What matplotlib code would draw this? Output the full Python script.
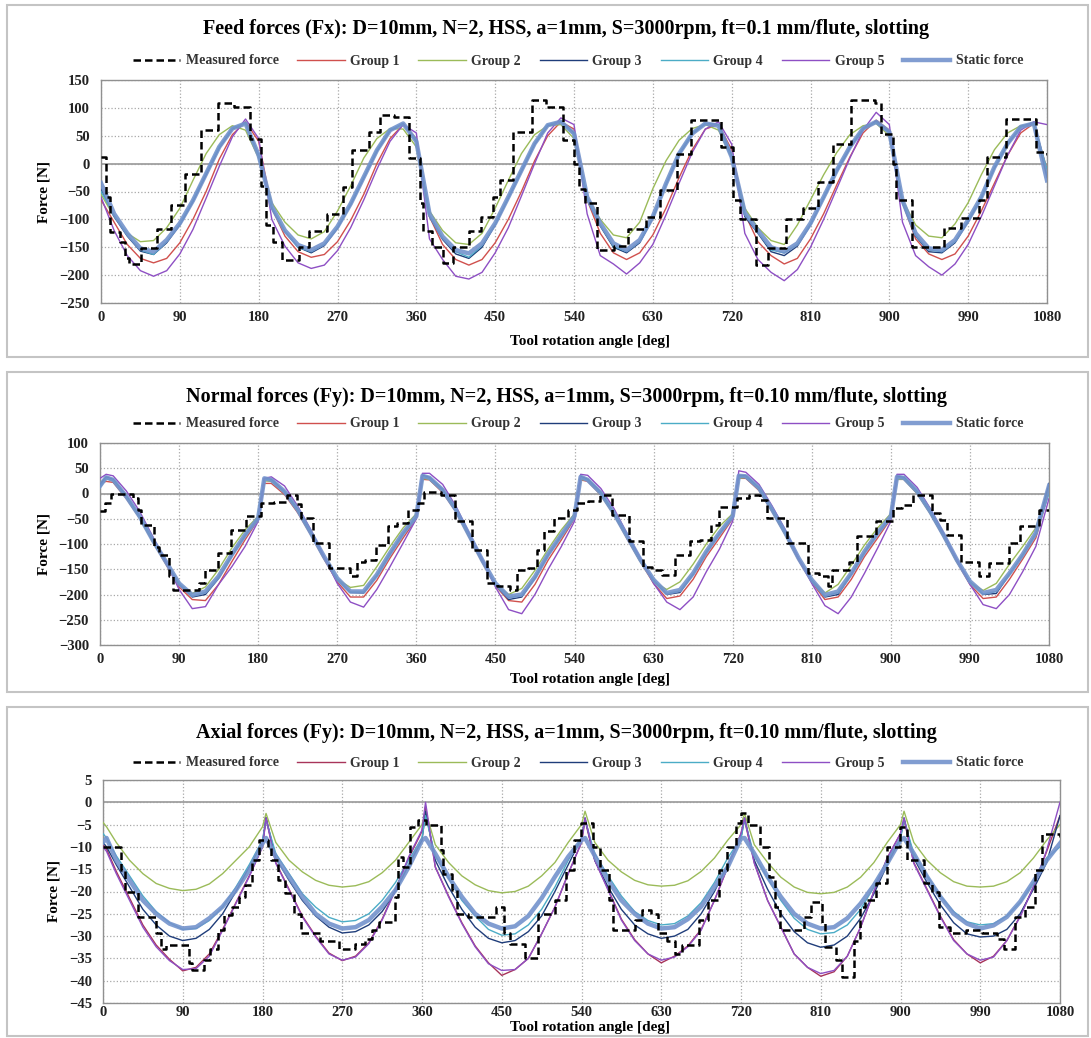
import numpy as np
import matplotlib.pyplot as plt
from matplotlib.patches import Rectangle

plt.rcParams['font.family'] = ['Liberation Serif', 'DejaVu Serif']

# ---------------- data: feed force Fx (every 15 deg) ----------------
fx_x = [0, 15, 30, 45, 60, 75, 90, 105, 120, 135, 150, 165,
        180, 195, 210, 225, 240, 255, 270, 285, 300, 315, 330, 345,
        360, 375, 390, 405, 420, 435, 450, 465, 480, 495, 510, 525,
        540, 555, 570, 585, 600, 615, 630, 645, 660, 675, 690, 705,
        720, 735, 750, 765, 780, 795, 810, 825, 840, 855, 870, 885,
        900, 915, 930, 945, 960, 975, 990, 1005, 1020, 1035, 1050, 1065,
        1080]
fx_static = [-35, -90, -125, -152, -158, -137, -107, -66, -18, 30, 63, 72,
             15, -77, -120, -146, -155, -143, -113, -72, -24, 24, 60, 72,
             40, -90, -131, -155, -161, -143, -107, -60, -12, 36, 69, 75,
             54, -60, -107, -143, -155, -137, -95, -36, 18, 54, 72, 68,
             12, -88, -120, -150, -158, -143, -107, -60, -12, 30, 63, 75,
             57, -66, -125, -152, -155, -137, -101, -60, -6, 36, 66, 72,
             -30]
fx_g1 = [-65, -105, -145, -170, -178, -170, -142, -100, -50, 8, 52, 75,
         40, -80, -130, -158, -168, -163, -140, -102, -55, 0, 45, 70,
         45, -95, -145, -172, -182, -172, -142, -100, -50, 5, 50, 75,
         62, -65, -125, -160, -172, -160, -128, -80, -25, 25, 62, 70,
         25, -90, -140, -165, -180, -170, -135, -90, -38, 12, 55, 78,
         60, -70, -135, -162, -172, -162, -130, -85, -35, 15, 55, 72,
         -10]
fx_g2 = [-55, -95, -125, -140, -138, -115, -80, -30, 18, 52, 68, 60,
         10, -70, -105, -128, -135, -122, -85, -40, 10, 45, 63, 62,
         30, -85, -120, -142, -145, -125, -80, -30, 18, 52, 68, 70,
         45, -60, -100, -128, -133, -105, -45, 5, 42, 63, 70, 60,
         10, -80, -115, -138, -145, -110, -65, -20, 20, 52, 68, 72,
         50, -65, -110, -130, -133, -108, -70, -20, 25, 55, 68, 70,
         -20]
fx_g3 = [-45, -95, -130, -157, -163, -142, -110, -68, -20, 28, 62, 73,
         15, -80, -122, -150, -160, -147, -116, -74, -26, 22, 59, 72,
         40, -95, -136, -162, -170, -150, -110, -62, -14, 34, 68, 76,
         55, -65, -112, -150, -160, -142, -98, -38, 16, 53, 72, 70,
         15, -95, -125, -158, -165, -148, -110, -62, -14, 28, 62, 76,
         57, -70, -130, -158, -160, -142, -104, -62, -8, 34, 66, 74,
         -25]
fx_g4 = [-50, -92, -128, -155, -163, -140, -108, -65, -16, 31, 64, 72,
         14, -78, -122, -150, -158, -145, -114, -72, -23, 25, 61, 71,
         42, -92, -133, -158, -168, -147, -108, -60, -11, 37, 70, 75,
         52, -63, -110, -148, -158, -140, -96, -36, 19, 55, 72, 69,
         10, -90, -123, -155, -160, -145, -108, -60, -11, 31, 64, 74,
         55, -68, -128, -155, -158, -140, -102, -60, -5, 37, 66, 72,
         -10]
fx_g5 = [-60, -120, -165, -192, -202, -192, -162, -118, -62, -5, 48, 80,
         45, -100, -148, -178, -188, -182, -156, -115, -65, -10, 40, 70,
         55, -135, -172, -202, -207, -195, -160, -115, -58, 0, 55, 82,
         70, -90, -165, -180, -198, -178, -145, -92, -35, 20, 62, 75,
         35, -125, -172, -195, -210, -190, -150, -100, -45, 10, 60, 92,
         70, -105, -165, -185, -200, -180, -145, -95, -40, 15, 60, 75,
         70]
fx_meas_x = [0, 6, 10, 22, 27, 32, 46, 64, 80, 96, 114, 134, 152, 170, 183, 188, 196, 207, 226, 238,
             258, 276, 287, 306, 318, 334, 352, 364, 368, 378, 390, 402, 420, 434, 448, 456, 470, 492, 508, 528,
             540, 546, 552, 566, 586, 602, 622, 638, 658, 674, 708, 722, 730, 748, 762, 782, 802, 818, 836, 856,
             884, 890, 904, 908, 926, 962, 982, 1002, 1011, 1033, 1068, 1080]
fx_meas_y = [12, -60, -122, -140, -170, -180, -152, -118, -75, -18, 60, 108, 102, 45, -40, -110, -140, -172, -150, -120,
             -90, -42, 25, 57, 88, 84, 10, -70, -120, -150, -178, -150, -120, -95, -60, -30, 57, 115, 102, 42,
             0, -45, -70, -155, -148, -118, -95, -47, 18, 78, 30, -65, -100, -182, -152, -100, -80, -33, 36, 114,
             108, 54, 0, -66, -150, -116, -98, -65, 12, 80, 20, 15]

# ---------------- data: normal force Fy ----------------
fy_x = [0, 7, 15, 30, 45, 60, 75, 90, 105, 120, 135, 150, 165,
        180, 187, 195, 210, 225, 240, 255, 270, 285, 300, 315, 330, 345,
        360, 367, 375, 390, 405, 420, 435, 450, 465, 480, 495, 510, 525,
        540, 547, 555, 570, 585, 600, 615, 630, 645, 660, 675, 690, 705,
        720, 727, 735, 750, 765, 780, 795, 810, 825, 840, 855, 870, 885,
        900, 907, 915, 930, 945, 960, 975, 990, 1005, 1020, 1035, 1050, 1065,
        1080]
fy_static = [15, 32, 27, -6, -45, -92, -135, -178, -201, -194, -164, -121, -82,
             -49, 30, 27, 4, -32, -78, -125, -168, -194, -194, -161, -118, -78,
             -45, 35, 31, 7, -32, -82, -132, -178, -204, -200, -165, -120, -82,
             -45, 33, 27, 1, -39, -85, -131, -171, -197, -191, -158, -115, -78,
             -45, 35, 34, 11, -32, -78, -128, -171, -201, -194, -158, -115, -78,
             -45, 33, 31, 4, -36, -82, -131, -174, -197, -191, -158, -121, -78,
             15]
fy_g1 = [20, 24, 22, -10, -48, -95, -140, -185, -210, -212, -180, -135, -92,
         -52, 20, 20, -2, -38, -82, -130, -175, -205, -205, -172, -128, -88,
         -50, 28, 27, 2, -36, -86, -136, -183, -212, -215, -180, -132, -92,
         -50, 27, 24, -3, -42, -90, -135, -178, -208, -203, -170, -125, -88,
         -50, 30, 30, 6, -36, -82, -132, -176, -210, -205, -170, -125, -88,
         -50, 28, 28, 0, -40, -86, -135, -180, -208, -205, -170, -130, -88,
         5]
fy_g2 = [20, 30, 25, -8, -48, -95, -138, -180, -198, -185, -150, -108, -72,
         -45, 25, 24, 2, -35, -80, -128, -170, -186, -182, -145, -105, -68,
         -40, 30, 28, 4, -35, -85, -135, -180, -200, -188, -152, -110, -72,
         -40, 28, 26, -2, -42, -88, -135, -175, -190, -175, -140, -100, -65,
         -40, 30, 32, 8, -35, -82, -130, -172, -197, -180, -142, -102, -68,
         -40, 28, 28, 0, -40, -85, -135, -176, -192, -178, -140, -105, -68,
         10]
fy_g3 = [18, 33, 28, -5, -45, -92, -136, -180, -205, -200, -168, -124, -84,
         -48, 30, 28, 4, -32, -78, -126, -170, -196, -197, -163, -120, -80,
         -46, 36, 32, 8, -32, -82, -133, -180, -210, -205, -168, -122, -84,
         -46, 34, 28, 2, -39, -85, -132, -172, -200, -196, -160, -117, -80,
         -46, 36, 35, 11, -32, -78, -129, -172, -205, -200, -160, -117, -80,
         -46, 34, 32, 4, -36, -82, -132, -175, -200, -198, -160, -122, -80,
         20]
fy_g4 = [12, 30, 26, -7, -46, -93, -136, -178, -203, -196, -165, -122, -83,
         -48, 29, 26, 3, -33, -79, -126, -169, -195, -195, -162, -119, -79,
         -46, 34, 30, 6, -33, -83, -133, -179, -206, -202, -166, -121, -83,
         -46, 32, 26, 0, -40, -86, -132, -172, -198, -193, -159, -116, -79,
         -46, 34, 33, 10, -33, -79, -129, -172, -203, -196, -159, -116, -79,
         -46, 32, 30, 3, -37, -83, -132, -175, -199, -194, -159, -122, -79,
         0]
fy_g5 = [30, 38, 35, 5, -35, -85, -135, -190, -228, -224, -180, -145, -105,
         -55, 30, 33, 15, -25, -72, -125, -178, -215, -225, -190, -145, -98,
         -50, 40, 40, 18, -25, -78, -130, -185, -230, -238, -200, -150, -105,
         -55, 38, 36, 10, -30, -80, -128, -178, -215, -230, -205, -155, -110,
         -55, 45, 42, 18, -25, -72, -128, -178, -222, -238, -205, -158, -108,
         -55, 38, 38, 12, -30, -78, -130, -180, -220, -228, -200, -155, -105,
         -10]
fy_meas_x = [0, 6, 12, 37, 43, 47, 62, 67, 79, 83, 113, 119, 134, 149, 166, 183, 198, 213, 224, 229,
             242, 261, 284, 292, 302, 314, 328, 338, 350, 362, 369, 388, 404, 423, 440, 452, 467, 475, 487, 497,
             505, 517, 533, 543, 555, 569, 583, 602, 618, 628, 640, 654, 671, 683, 695, 705, 725, 739, 751, 759,
             782, 806, 818, 828, 833, 852, 861, 883, 903, 913, 925, 947, 956, 964, 980, 1000, 1012, 1035, 1047, 1069,
             1080]
fy_meas_y = [-35, -19, 0, -9, -32, -62, -105, -121, -164, -191, -178, -151, -118, -72, -45, -19, -16, -2, -20, -49,
             -98, -148, -164, -135, -131, -102, -65, -59, -32, -19, 2, -2, -55, -112, -178, -184, -191, -151, -148, -112,
             -75, -49, -32, -19, -14, -2, -42, -95, -145, -151, -161, -121, -95, -92, -62, -26, -9, -2, -12, -49,
             -98, -158, -164, -184, -151, -135, -85, -55, -29, -22, -2, -39, -52, -82, -135, -164, -138, -98, -65, -32,
             -32]

# ---------------- data: axial force ----------------
fz_x = [0, 4, 15, 30, 45, 60, 75, 90, 105, 120, 135, 150, 165,
        180, 184, 195, 210, 225, 240, 255, 270, 285, 300, 315, 330, 345,
        360, 364, 375, 390, 405, 420, 435, 450, 465, 480, 495, 510, 525,
        540, 544, 555, 570, 585, 600, 615, 630, 645, 660, 675, 690, 705,
        720, 724, 735, 750, 765, 780, 795, 810, 825, 840, 855, 870, 885,
        900, 904, 915, 930, 945, 960, 975, 990, 1005, 1020, 1035, 1050, 1065,
        1080]
fz_static = [-9, -8, -13, -17.5, -22, -25, -27.2, -28.3, -28, -26, -23.4, -19.7, -15.2,
             -9.2, -8, -12.2, -16.7, -21.2, -25, -27.2, -28.3, -28, -26.4, -23.4, -19.7, -14.5,
             -8.5, -8, -11.5, -16.7, -21.2, -25, -27.2, -28.3, -27.8, -25.5, -21.5, -16.7, -12.2,
             -8.5, -8, -12, -17.5, -22, -25, -27.2, -28.3, -28, -26.2, -23.4, -19, -14.5,
             -8.1, -8, -11.5, -16.7, -21.2, -25, -27.2, -28.3, -28, -26, -22.7, -18.6, -13.7,
             -8.5, -8, -11.5, -16.7, -21.2, -25, -27.2, -28.3, -27.6, -25.7, -22.3, -17.8, -13,
             -9.2]
fz_g1 = [-9.5, -10.5, -15.5, -21.5, -27.5, -32, -35.2, -37.8, -37, -34, -28.5, -22.5, -16.5,
         -10, -3.5, -13.5, -19.5, -25.5, -30, -33.8, -35.5, -34.5, -31.5, -26.2, -19.5, -12.5,
         -6.5, -1, -14.5, -21, -27, -32.2, -36, -38.8, -37.5, -35, -29.5, -23.5, -16,
         -9, -4, -13, -19.5, -26.2, -30.8, -34, -36, -34.5, -32.2, -28.5, -22, -14.5,
         -7, -4, -13.5, -22, -28, -34, -37, -39, -38, -34.5, -28, -20, -12.5,
         -7, -4, -13.5, -19.5, -25.5, -30.8, -34, -36, -34.5, -31, -25.5, -19, -11,
         -3]
fz_g2 = [-4.5, -5.5, -9, -13, -16, -18.2, -19.3, -19.8, -19.5, -18.3, -16, -13, -10,
         -5.5, -2.5, -9, -13, -15.6, -17.5, -18.6, -19, -18.7, -17.8, -15.8, -13, -9,
         -5, -2, -9.5, -13.5, -16.5, -18.5, -19.8, -20.3, -20, -18.8, -16.5, -13.5, -9,
         -5, -2, -9, -13, -15.6, -17.5, -18.5, -18.8, -18.6, -17.6, -15.5, -12.5, -8.5,
         -5, -2.5, -9.5, -13.5, -16.8, -19, -20.2, -20.5, -20.2, -19, -16.8, -13.5, -9,
         -5, -2, -9, -13, -15.8, -17.8, -18.8, -19, -18.8, -17.8, -15.8, -12.5, -8.5,
         -5]
fz_g3 = [-9, -10, -14, -19, -24, -27.5, -30, -31, -30.5, -28.5, -25, -20, -14.5,
         -9, -3.5, -12.5, -17.5, -22, -25.5, -28, -29.3, -29, -27.5, -24.5, -20, -14,
         -8.5, -2, -13, -19, -24, -28, -30.5, -31.5, -31, -29, -25.5, -20, -14,
         -8, -3.5, -13, -19, -24, -27.5, -29.5, -30.5, -30, -28.5, -25, -20, -14,
         -8, -3.5, -13, -19.5, -25, -29, -31.5, -32.5, -32, -30, -26, -20.5, -14,
         -8, -3.5, -12.5, -18, -23, -27, -29.5, -30.2, -30, -28.5, -25, -19.5, -13.5,
         -3]
fz_g4 = [-7, -8, -12, -16.5, -21, -24.5, -27, -28.5, -28.3, -26.5, -23.5, -19, -14,
         -8.5, -4, -11.5, -16, -20.5, -23.5, -25.8, -26.8, -26.5, -25, -22, -18, -13,
         -8, -3, -12, -17, -22, -25.5, -28.5, -29.8, -29.5, -27.5, -24, -19, -13,
         -8, -4, -11.5, -16.5, -21, -24.5, -26.5, -27.5, -27.2, -25.5, -22.5, -18, -12.5,
         -8, -4, -12, -17, -22, -26, -28.5, -29.5, -29.2, -27.5, -24, -19, -13,
         -8, -4, -11.5, -16.5, -21, -24.5, -26.8, -27.5, -27.2, -25.5, -22.5, -18, -12.5,
         -10]
fz_g5 = [-10, -11, -16, -22, -28, -32.4, -35.5, -37.5, -37.3, -34.5, -28.7, -22.7, -16.7,
         -10, -3.5, -13.7, -19.7, -25.7, -30.2, -34, -35.4, -34.7, -31.7, -26.4, -19.7, -12.2,
         -6.2, 0, -14.5, -21.2, -27.2, -32.4, -36.2, -37.7, -37.5, -35, -29.5, -23.5, -16,
         -9, -3.5, -13, -19.7, -26.4, -31, -34, -35.4, -34.7, -32.4, -28.7, -22, -14.5,
         -7, -3.5, -13.7, -22, -28, -34, -37, -38.4, -37.7, -34.5, -28, -20, -12.5,
         -7, -3.5, -13.7, -19.7, -25.7, -31, -34, -35.4, -34.7, -31, -25.7, -19, -10.7,
         0]
fz_meas_x = [0, 20, 25, 40, 60, 66, 71, 97, 101, 114, 121, 130, 136, 146, 154, 160, 168, 176, 186, 190,
             197, 205, 215, 223, 245, 266, 284, 296, 304, 312, 330, 333, 339, 347, 355, 365, 382, 384, 394, 400,
             412, 443, 453, 459, 476, 491, 510, 522, 532, 539, 553, 561, 571, 575, 600, 608, 618, 626, 636, 646,
             653, 673, 683, 695, 704, 714, 720, 728, 742, 752, 758, 764, 791, 799, 811, 815, 827, 834, 848, 854,
             860, 872, 885, 899, 907, 927, 936, 944, 956, 974, 992, 1009, 1017, 1029, 1041, 1052, 1060, 1080]
fz_meas_y = [-10, -15.2, -20, -25.7, -29.4, -32.8, -32, -36, -37.7, -35.4, -32.8, -28.7, -25.3, -23.4, -21.2, -18.6, -13, -8.5, -10, -13,
             -17.5, -20.4, -25, -29.4, -31, -32.8, -31.7, -30.6, -28.7, -26.8, -21.2, -12.2, -14.5, -5.5, -4, -5, -10.7, -16, -19.7, -25,
             -25.7, -23.4, -29.4, -31.7, -35, -25, -22, -15.2, -8.5, -4.7, -10, -15.2, -22, -28.7, -26.4, -24.2, -25, -29.4, -31, -34,
             -32, -26.4, -22, -15.2, -10, -4.7, -2.5, -5, -10, -16.7, -23.4, -28.7, -25.7, -22.3, -27, -32.4, -35.4, -39.2, -31, -23.4,
             -22, -18.2, -10, -5.5, -13, -18.2, -20, -28, -29.4, -28.7, -29.4, -30.6, -32.8, -25.7, -23.4, -15.2, -7, -7.7]

labels = ['Measured force', 'Group 1', 'Group 2', 'Group 3', 'Group 4', 'Group 5', 'Static force']
titles = ['Feed forces (Fx): D=10mm, N=2, HSS, a=1mm, S=3000rpm, ft=0.1 mm/flute, slotting',
          'Normal forces (Fy): D=10mm, N=2, HSS, a=1mm, S=3000rpm, ft=0.10 mm/flute, slotting',
          'Axial forces (Fy): D=10mm, N=2, HSS, a=1mm, S=3000rpm, ft=0.10 mm/flute, slotting']

W, H = 1091, 1038


def fxp(x):
    return x / W


def fyp(y):
    return 1 - y / H


fig = plt.figure(figsize=(W / 100, H / 100), dpi=100)

# chart frames (pixel boxes: left, top, right, bottom)
for l, t, r, b in [(7, 5, 1088, 357), (7, 372, 1088, 692), (7, 707, 1088, 1036)]:
    fig.add_artist(Rectangle((fxp(l), fyp(b)), (r - l) / W, (b - t) / H, transform=fig.transFigure,
                             fill=False, edgecolor='#c4c4c4', lw=1.5))

panels = [
    dict(box=(101, 80, 1047, 303), ylim=(-250, 150), ystep=50, title_y=29, leg_y=61, xl_y=341, yl_x=44, pad=6,
         x=fx_x, g=[fx_g1, fx_g2, fx_g3, fx_g4, fx_g5], s=fx_static, mx=fx_meas_x, my=fx_meas_y, c1='#d0504d'),
    dict(box=(100, 443, 1049, 645), ylim=(-300, 100), ystep=50, title_y=397, leg_y=424, xl_y=679, yl_x=44, pad=6,
         x=fy_x, g=[fy_g1, fy_g2, fy_g3, fy_g4, fy_g5], s=fy_static, mx=fy_meas_x, my=fy_meas_y, c1='#d0504d'),
    dict(box=(103, 780, 1060, 1003), ylim=(-45, 5), ystep=5, title_y=733, leg_y=763, xl_y=1028, yl_x=54, pad=2,
         x=fz_x, g=[fz_g1, fz_g2, fz_g3, fz_g4, fz_g5], s=fz_static, mx=fz_meas_x, my=fz_meas_y, c1='#a8345a'),
]

for i, p in enumerate(panels):
    l, t, r, b = p['box']
    ax = fig.add_axes([fxp(l), fyp(b), (r - l) / W, (b - t) / H])
    colors = [p['c1'], '#9bbb59', '#1f3d7a', '#4bacc6', '#8e4fc4']
    handles = []
    for yy, c in zip(p['g'], colors):
        h, = ax.plot(p['x'], yy, color=c, lw=1.0, zorder=3)
        handles.append(h)
    hs, = ax.plot(p['x'], p['s'], color='#7393cc', lw=3.2, alpha=0.9, zorder=4)
    hm, = ax.plot(p['mx'], p['my'], color='black', lw=1.8, ls=(0, (3, 1.6)),
                  drawstyle='steps-post', zorder=5)
    handles = [hm] + handles + [hs]

    ax.set_xlim(0, 1080)
    ax.set_ylim(*p['ylim'])
    ax.set_xticks(np.arange(0, 1081, 90))
    ax.set_yticks(np.arange(p['ylim'][0], p['ylim'][1] + 0.1, p['ystep']))
    ax.grid(True, color='#a8a8a8', ls=':', lw=0.9)
    ax.axhline(0, color='#a0a0a0', lw=1.3, zorder=2)
    for sp in ax.spines.values():
        sp.set_color('#909090')
        sp.set_linewidth(1.0)
    ax.tick_params(length=0, labelsize=10.5, labelcolor='#222222')
    ax.tick_params(axis='x', pad=p['pad'])
    ax.tick_params(axis='y', pad=8)
    for lab in ax.get_xticklabels() + ax.get_yticklabels():
        lab.set_fontweight('bold')

    fig.text(fxp(566), fyp(p['title_y']), titles[i], ha='center', va='center',
             fontsize=14.5, fontweight='bold')
    ax.legend(handles, labels, loc='center', bbox_to_anchor=(fxp(578), fyp(p['leg_y'])),
              bbox_transform=fig.transFigure, ncol=7, frameon=False, handlelength=3.4,
              columnspacing=1.35, handletextpad=0.4,
              prop=dict(size=10, weight='bold'), labelcolor='#333333')
    fig.text(fxp(590), fyp(p['xl_y']), 'Tool rotation angle [deg]', ha='center', va='center',
             fontsize=11, fontweight='bold')
    fig.text(fxp(p['yl_x']), (fyp(b) + fyp(t)) / 2, 'Force [N]', ha='center', va='center',
             rotation=90, fontsize=11, fontweight='bold')

fig.savefig('out.png', dpi=100)
